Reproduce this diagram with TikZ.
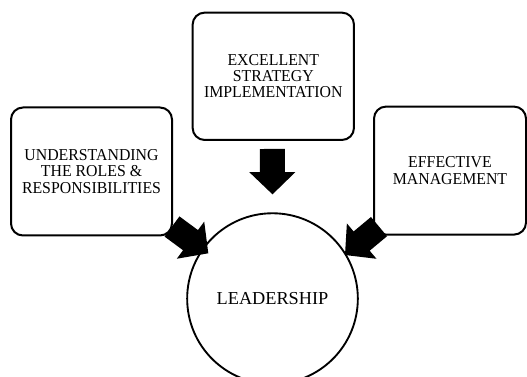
\documentclass[tikz,border=0pt]{standalone}
\usepackage{fontspec}
\setmainfont{Liberation Serif}
\newfontfamily\boxfont[FakeStretch=0.95]{Liberation Serif}
\usetikzlibrary{calc}
\tikzset{
  boxnode/.style={draw=black, line width=1.5pt, fill=white, rounded corners=9pt,
    align=center, inner sep=0pt,
    font={\boxfont\fontsize{12.5}{12.2}\selectfont}},
  leadnode/.style={draw=black, line width=1.4pt, circle, inner sep=0pt,
    minimum size=128pt, font={\fontsize{13.7}{15}\selectfont}},
  blockfill/.style={fill=black}
}
\newcommand\blockarrow[2]{%
  \coordinate (H) at ($(#1)!0.51!(#2)$);
  \fill[blockfill] ($(#1)!9.4pt!90:(#2)$) -- ($(H)!9.4pt!-90:(#1)$)
    -- ($(H)!17.3pt!-90:(#1)$) -- (#2) -- ($(H)!17.3pt!90:(#1)$)
    -- ($(H)!9.4pt!90:(#1)$) -- ($(#1)!9.4pt!-90:(#2)$) -- cycle;
}
\begin{document}
\begin{tikzpicture}[x=0.75pt, y=-0.75pt]
  \useasboundingbox (0,0) rectangle (527,377);
  \fill[white] (0,0) rectangle (527,377);
  \clip (0,0) rectangle (527,377);

  \node[boxnode, minimum width=121pt, minimum height=95.5pt] (top) at (273.3,76.3)
    {EXCELLENT\\STRATEGY\\IMPLEMENTATION};
  \node[boxnode, minimum width=120.75pt, minimum height=96pt] (left) at (91.5,171.5)
    {UNDERSTANDING\\THE ROLES \&\\RESPONSIBILITIES};
  \node[boxnode, minimum width=114pt, minimum height=96pt] (right) at (450,170.6)
    {EFFECTIVE\\MANAGEMENT};
  \node[leadnode] (lead) at (272.5,298.6) {LEADERSHIP};

  \coordinate (ts) at ($(top.south)+(-1,8)$);
  \coordinate (tt) at ($(lead.north)+(0,-18)$);
  \coordinate (ls) at ($(left.south east)+(-1,-10)$);
  \coordinate (lt) at ($(lead.center)+(-64.2,-45.3)$);
  \coordinate (rs) at ($(right.south west)+(6,-9)$);
  \coordinate (rt) at ($(lead.center)+(72.5,-43.6)$);

  \blockarrow{ts}{tt}
  \blockarrow{ls}{lt}
  \blockarrow{rs}{rt}
\end{tikzpicture}
\end{document}
